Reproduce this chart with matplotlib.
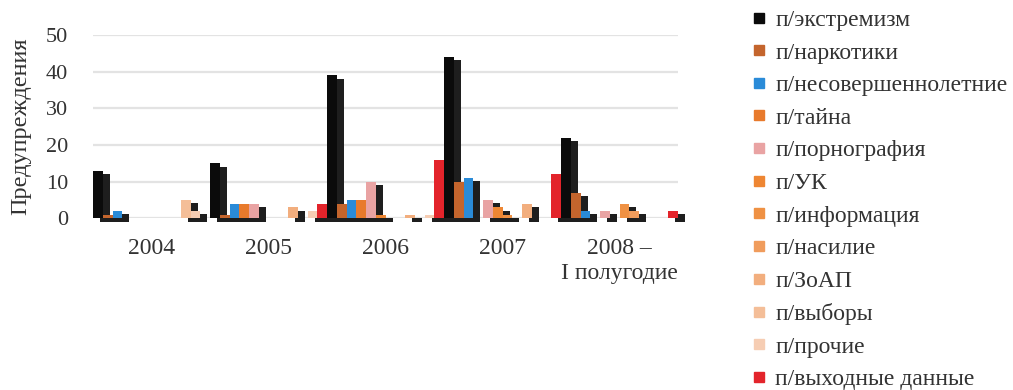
import numpy as np
import matplotlib
matplotlib.use("Agg")
import matplotlib.pyplot as plt
from matplotlib.lines import Line2D

plt.rcParams['font.family'] = ['Liberation Serif', 'DejaVu Serif']

categories = ["2004", "2005", "2006", "2007", "2008 –\nI полугодие"]
series_names = ["п/экстремизм", "п/наркотики", "п/несовершеннолетние", "п/тайна",
                "п/порнография", "п/УК", "п/информация", "п/насилие", "п/ЗоАП",
                "п/выборы", "п/прочие", "п/выходные данные"]
colors = ["#0b0b0b", "#c4652d", "#2a8bd8", "#e87a2c", "#e9a3a3", "#ee8633",
          "#ef9143", "#f09c5c", "#f2ae7e", "#f4be98", "#f6cdb3", "#e3242b"]

extremism   = [13, 15, 39, 44, 22]
narcotics   = [1, 1, 4, 10, 7]
minors      = [2, 4, 5, 11, 2]
secret      = [0, 4, 5, 0, 0]
porn        = [0, 4, 10, 5, 2]
uk          = [0, 0, 1, 3, 0]
information = [0, 0, 0, 1, 4]
violence    = [0, 0, 0, 0, 2]
zoap        = [0, 3, 1, 4, 0]
elections   = [5, 0, 0, 0, 0]
other       = [2, 2, 1, 0, 0]
imprint     = [0, 4, 16, 12, 2]

series = [extremism, narcotics, minors, secret, porn, uk, information,
          violence, zoap, elections, other, imprint]

fig = plt.figure(figsize=(10.13, 3.90), dpi=100)
ax = fig.add_axes([93/1013, 1 - 218.3/390, 585/1013, 183.3/390])

n = len(series)
w = 1.0 / n
cats = np.arange(len(categories))
dx = 0.72 * w
dy = 0.9

for j, vals in enumerate(series):
    vals = np.array(vals, dtype=float)
    x = cats - 0.5 + (j + 0.5) * w
    mask = vals > 0
    # shadow
    ax.bar(x[mask] + dx, vals[mask], bottom=-dy, width=w, color="#1e1e1e",
           zorder=2, clip_on=False, linewidth=0)
    ax.bar(x[mask], vals[mask], width=w, color=colors[j], zorder=3,
           linewidth=0, clip_on=False)

ax.set_xlim(-0.5, len(categories) - 0.5)
ax.set_ylim(0, 50)
ax.set_yticks([0, 10, 20, 30, 40, 50])
ax.yaxis.grid(True, color="#e3e3e3", linewidth=1.6, zorder=0)
ax.set_axisbelow(True)
for s in ax.spines.values():
    s.set_visible(False)
ax.set_xticks(cats)
ax.set_xticklabels(categories, fontsize=17, color="#333333", linespacing=1.25)
ax.tick_params(axis='x', length=0, pad=14)
ax.tick_params(axis='y', length=0, pad=18, labelsize=16, labelcolor="#333333")
ax.set_ylabel("Предупреждения", fontsize=17.5, color="#333333")
ax.yaxis.set_label_coords(-0.105, 0.5)

handles = [Line2D([], [], marker='s', linestyle='none', markersize=7,
                  markerfacecolor=c, markeredgecolor=c) for c in colors]
fig.legend(handles, series_names, loc='upper left',
           bbox_to_anchor=(748/1013, 1 - 7/390), frameon=False, fontsize=17,
           handlelength=0.7, handletextpad=0.35, labelspacing=0.47,
           borderaxespad=0, borderpad=0.1, labelcolor="#333333")

fig.savefig("out.png", dpi=100, facecolor="white")
